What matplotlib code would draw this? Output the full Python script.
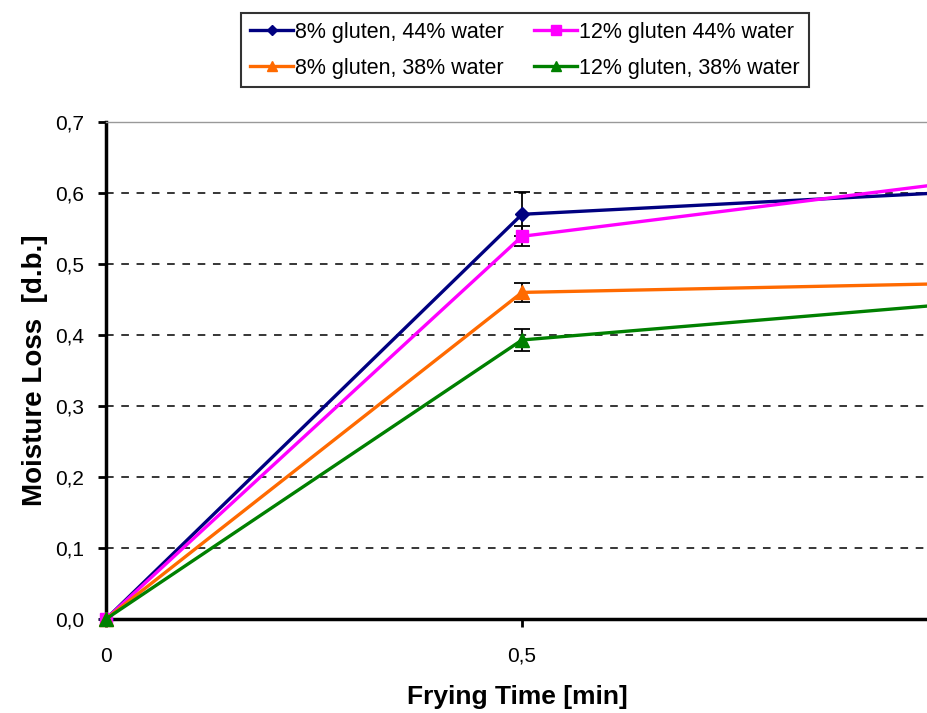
import matplotlib.pyplot as plt
import numpy as np
from matplotlib.ticker import FuncFormatter

plt.rcParams['font.family'] = ['Liberation Sans', 'DejaVu Sans']

# frying time (min) and moisture loss (d.b.)
time_min = [0.0, 0.5, 1.0]
labels = ['8% gluten, 44% water', '12% gluten 44% water',
          '8% gluten, 38% water', '12% gluten, 38% water']
loss_g8_w44 = [0.0, 0.570, 0.600]
loss_g12_w44 = [0.0, 0.539, 0.612]
loss_g8_w38 = [0.0, 0.460, 0.472]
loss_g12_w38 = [0.0, 0.393, 0.442]
err_g8_w44 = [0.0, 0.031, 0.0]
err_g12_w44 = [0.0, 0.014, 0.0]
err_g8_w38 = [0.0, 0.013, 0.0]
err_g12_w38 = [0.0, 0.015, 0.0]

series = [
    (loss_g8_w44, err_g8_w44, '#000080', 'D', 7),
    (loss_g12_w44, err_g12_w44, '#ff00ff', 's', 9),
    (loss_g8_w38, err_g8_w38, '#ff6a00', '^', 10),
    (loss_g12_w38, err_g12_w38, '#008000', '^', 10),
]

fig = plt.figure(figsize=(9.28, 7.13), dpi=100)
ax = fig.add_axes([106 / 928, 94 / 713, 1 - 106 / 928, 497 / 713])

handles = []
for (vals, errs, color, marker, ms), lab in zip(series, labels):
    ax.errorbar(time_min, vals, yerr=errs, fmt='none', ecolor='black',
                elinewidth=1.3, capsize=6, capthick=1.3, zorder=2)
    h, = ax.plot(time_min, vals, color=color, lw=2.4, marker=marker, ms=ms,
                 markevery=[0, 1], clip_on=False, zorder=3, label=lab)
    handles.append(h)

ax.set_xlim(0, 0.988)
ax.set_ylim(0, 0.7)
ax.set_yticks(np.arange(0, 0.71, 0.1))
ax.set_xticks([0, 0.5])

comma = FuncFormatter(lambda v, p: ('%.1f' % v).replace('.', ','))
ax.yaxis.set_major_formatter(comma)
ax.xaxis.set_major_formatter(FuncFormatter(
    lambda v, p: '0' if v == 0 else ('%.1f' % v).replace('.', ',')))

for y in np.arange(0.1, 0.65, 0.1):
    ax.axhline(y, color='black', lw=1.1, ls=(0, (5, 5)), zorder=1)

ax.spines['left'].set_linewidth(2.5)
ax.spines['bottom'].set_linewidth(2.5)
ax.spines['right'].set_visible(False)
ax.spines['top'].set_color('#999999')
ax.spines['top'].set_linewidth(1)

ax.tick_params(axis='y', direction='out', length=6, width=2, labelsize=15, pad=10)
ax.tick_params(axis='x', direction='out', length=6, width=2, labelsize=15, pad=14)

ax.set_xlabel('Frying Time [min]', fontsize=19, fontweight='bold', labelpad=14)
ax.set_ylabel('Moisture Loss  [d.b.]', fontsize=20, fontweight='bold', labelpad=5)

order = [handles[0], handles[2], handles[1], handles[3]]
leg = fig.legend(order, [h.get_label() for h in order], ncol=2,
                 loc='upper center', bbox_to_anchor=(525 / 928, 1 - 13 / 713),
                 fontsize=15.5, frameon=True, fancybox=False, edgecolor='black',
                 handlelength=2.0, handletextpad=0.1, columnspacing=1.4,
                 labelspacing=0.7, borderpad=0.4, borderaxespad=0,
                 markerscale=0.75)
leg.get_frame().set_linewidth(1.5)

fig.savefig('out.png', dpi=100)
